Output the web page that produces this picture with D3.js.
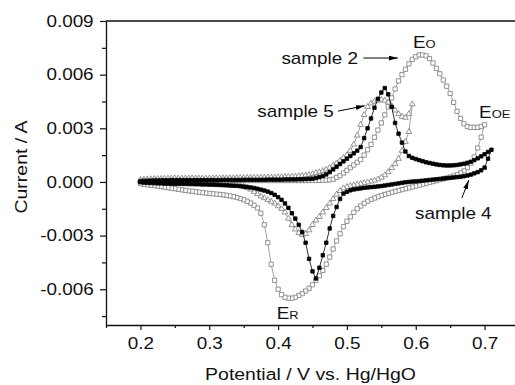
<!DOCTYPE html>
<html>
<head>
<meta charset="utf-8">
<script src="https://cdn.jsdelivr.net/npm/d3@7"></script>
<style>
  body { margin: 0; background: #fff; }
  svg { display: block; font-family: 'Liberation Sans', Arial, Helvetica, sans-serif; }
</style>
</head>
<body>
<div id="chart"></div>
<script>
// Cyclic voltammograms, currents in mA, one value per scan step.
// Anodic arrays run up from scanStart; cathodic arrays are listed
// from scanStart upwards too and get reversed when the loop is built.
const scanStart = 0.2;
const scanStep = 0.005;

const sample2Anodic = [
  0.00, 0.02, 0.03, 0.04, 0.05, 0.05, 0.06, 0.06, 0.06, 0.07,
  0.07, 0.07, 0.07, 0.07, 0.08, 0.08, 0.08, 0.08, 0.08, 0.08,
  0.08, 0.08, 0.08, 0.08, 0.08, 0.08, 0.08, 0.08, 0.08, 0.08,
  0.08, 0.08, 0.08, 0.08, 0.08, 0.08, 0.08, 0.08, 0.08, 0.08,
  0.08, 0.08, 0.08, 0.08, 0.08, 0.08, 0.08, 0.08, 0.08, 0.08,
  0.08, 0.09, 0.09, 0.10, 0.10, 0.12, 0.15, 0.25, 0.35, 0.50,
  0.65, 0.80, 0.95, 1.10, 1.25, 1.50, 1.80, 2.10, 2.50, 2.90,
  3.30, 3.75, 4.20, 4.70, 5.20, 5.65, 6.00, 6.30, 6.60, 6.85,
  7.00, 7.10, 7.10, 7.05, 6.90, 6.65, 6.35, 6.05, 5.70, 5.35,
  4.95, 4.45, 3.95, 3.55, 3.25, 3.10, 3.05, 3.05, 3.05, 3.10,
  3.20,
];
const sample2Cathodic = [
  -0.10, -0.13, -0.16, -0.18, -0.20, -0.23, -0.26, -0.29, -0.32, -0.35,
  -0.38, -0.41, -0.44, -0.47, -0.50, -0.52, -0.55, -0.57, -0.60, -0.62,
  -0.64, -0.66, -0.68, -0.70, -0.72, -0.75, -0.78, -0.82, -0.87, -0.93,
  -1.00, -1.08, -1.18, -1.30, -1.45, -1.75, -2.40, -3.40, -4.60, -5.50,
  -6.00, -6.30, -6.45, -6.50, -6.50, -6.45, -6.35, -6.25, -6.10, -5.95,
  -5.75, -5.50, -5.25, -4.95, -4.60, -4.20, -3.75, -3.30, -2.90, -2.50,
  -2.20, -1.95, -1.70, -1.50, -1.35, -1.20, -1.08, -0.98, -0.90, -0.83,
  -0.76, -0.70, -0.64, -0.58, -0.53, -0.48, -0.43, -0.38, -0.33, -0.28,
  -0.23, -0.18, -0.13, -0.08, -0.03, 0.02, 0.07, 0.12, 0.17, 0.22,
  0.27, 0.33, 0.40, 0.50, 0.62, 0.80, 1.05, 1.40, 1.90, 2.50,
];

const sample4Anodic = [
  0.03, 0.05, 0.06, 0.07, 0.08, 0.08, 0.09, 0.09, 0.09, 0.10,
  0.10, 0.10, 0.10, 0.10, 0.10, 0.10, 0.10, 0.10, 0.10, 0.10,
  0.10, 0.10, 0.10, 0.10, 0.11, 0.11, 0.11, 0.11, 0.11, 0.11,
  0.12, 0.12, 0.12, 0.12, 0.12, 0.12, 0.12, 0.13, 0.13, 0.13,
  0.13, 0.13, 0.14, 0.14, 0.14, 0.14, 0.15, 0.15, 0.16, 0.17,
  0.18, 0.22, 0.27, 0.33, 0.42, 0.55, 0.70, 0.85, 1.00, 1.15,
  1.30, 1.45, 1.60, 1.75, 1.95, 2.45, 3.00, 3.55, 4.15, 4.65,
  5.00, 5.25, 4.90, 4.20, 3.30, 2.70, 2.20, 1.70, 1.45, 1.35,
  1.28, 1.22, 1.16, 1.10, 1.06, 1.02, 0.98, 0.95, 0.93, 0.92,
  0.92, 0.93, 0.95, 0.98, 1.02, 1.07, 1.13, 1.22, 1.32, 1.43,
  1.55, 1.68, 1.80,
];
const sample4Cathodic = [
  -0.02, -0.04, -0.05, -0.06, -0.07, -0.08, -0.08, -0.09, -0.09, -0.10,
  -0.10, -0.10, -0.11, -0.11, -0.12, -0.12, -0.13, -0.13, -0.14, -0.14,
  -0.15, -0.15, -0.16, -0.17, -0.18, -0.19, -0.20, -0.21, -0.22, -0.24,
  -0.26, -0.28, -0.31, -0.34, -0.38, -0.43, -0.48, -0.54, -0.62, -0.72,
  -0.85, -1.00, -1.20, -1.45, -1.75, -2.05, -2.40, -2.80, -3.40, -4.30,
  -5.00, -5.40, -4.80, -4.10, -3.40, -2.60, -1.90, -1.40, -0.95, -0.65,
  -0.55, -0.47, -0.42, -0.39, -0.36, -0.33, -0.31, -0.29, -0.27, -0.25,
  -0.23, -0.20, -0.17, -0.14, -0.11, -0.08, -0.05, -0.02, 0.00, 0.02,
  0.03, 0.05, 0.07, 0.09, 0.11, 0.13, 0.15, 0.17, 0.19, 0.21,
  0.23, 0.25, 0.27, 0.29, 0.32, 0.36, 0.41, 0.48, 0.55, 0.65,
  0.80, 1.30,
];

const sample5Anodic = [
  0.12, 0.14, 0.15, 0.16, 0.17, 0.18, 0.18, 0.19, 0.19, 0.19,
  0.20, 0.20, 0.20, 0.20, 0.20, 0.20, 0.20, 0.20, 0.20, 0.20,
  0.20, 0.20, 0.21, 0.21, 0.21, 0.22, 0.22, 0.22, 0.23, 0.23,
  0.23, 0.24, 0.24, 0.24, 0.25, 0.25, 0.25, 0.26, 0.26, 0.26,
  0.27, 0.27, 0.28, 0.29, 0.30, 0.31, 0.33, 0.35, 0.37, 0.40,
  0.45, 0.50, 0.55, 0.62, 0.70, 0.80, 0.92, 1.05, 1.20, 1.35,
  1.50, 1.75, 2.10, 2.60, 3.20, 3.75, 4.20, 4.40, 4.50, 4.55,
  4.60, 4.55, 4.45, 4.25, 4.00, 3.80, 3.65, 3.60, 3.80, 4.35,
];
const sample5Cathodic = [
  0.06, 0.04, 0.03, 0.02, 0.01, 0.00, -0.01, -0.02, -0.02, -0.03,
  -0.03, -0.04, -0.04, -0.05, -0.05, -0.06, -0.07, -0.08, -0.09, -0.10,
  -0.11, -0.12, -0.13, -0.14, -0.15, -0.16, -0.17, -0.18, -0.19, -0.21,
  -0.26, -0.33, -0.42, -0.55, -0.67, -0.80, -0.90, -1.00, -1.10, -1.20,
  -1.35, -1.50, -1.70, -2.05, -2.40, -2.65, -2.85, -2.95, -2.90, -2.70,
  -2.40, -2.15, -1.95, -1.70, -1.45, -1.20, -0.95, -0.70, -0.50, -0.35,
  -0.27, -0.22, -0.18, -0.14, -0.10, -0.06, -0.02, 0.03, 0.08, 0.15,
  0.25, 0.38, 0.55, 0.78, 1.00, 1.30, 1.75, 2.25, 2.80,
];

const xTicks = [0.2, 0.3, 0.4, 0.5, 0.6, 0.7];
const xMinorTicks = [0.15, 0.25, 0.35, 0.45, 0.55, 0.65, 0.75];
const yTicks = [-0.006, -0.003, 0, 0.003, 0.006, 0.009];
const yMinorTicks = [-0.0075, -0.0045, -0.0015, 0.0015, 0.0045, 0.0075];

const labels = [
  { text: 'sample 2', v: 0.516, c: 0.0066, anchor: 'end' },
  { text: 'sample 5', v: 0.481, c: 0.00362, anchor: 'end' },
  { text: 'sample 4', v: 0.599, c: -0.0021, anchor: 'start' },
];
const peakLabels = [
  { main: 'E', sub: 'O', v: 0.596, c: 0.0075 },
  { main: 'E', sub: 'OE', v: 0.692, c: 0.00358 },
  { main: 'E', sub: 'R', v: 0.398, c: -0.00768 },
];
const arrows = [
  { from: [0.524, 0.00693], to: [0.574, 0.00693] },
  { from: [0.487, 0.00396], to: [0.526, 0.00426] },
  { from: [0.667, -0.0009], to: [0.677, 0.0001] },
];

const width = 515;
const height = 385;
const stretch = 1.18; // the original lettering is a little wider than Arial

const x = d3.scaleLinear().domain([0.15, 0.75]).range([106, 519]);
const y = d3.scaleLinear().domain([-0.008, 0.009]).range([325, 21]);

function loop(anodic, cathodic) {
  const up = anodic.map((c, i) => ({ v: scanStart + i * scanStep, c: c / 1000 }));
  const down = cathodic
    .map((c, i) => ({ v: scanStart + i * scanStep, c: c / 1000 }))
    .reverse();
  return up.concat(down);
}

const series = [
  {
    name: 'sample 2',
    points: loop(sample2Anodic, sample2Cathodic),
    symbol: d3.symbolSquare,
    size: 18,
    fill: '#fff',
    stroke: '#7a7a7a',
    line: '#8a8a8a',
  },
  {
    name: 'sample 5',
    points: loop(sample5Anodic, sample5Cathodic),
    symbol: d3.symbolTriangle,
    size: 14,
    fill: '#fff',
    stroke: '#7a7a7a',
    line: '#8a8a8a',
  },
  {
    name: 'sample 4',
    points: loop(sample4Anodic, sample4Cathodic),
    symbol: d3.symbolSquare,
    size: 12,
    fill: '#000',
    stroke: '#000',
    line: '#000',
  },
];

const svg = d3
  .select('#chart')
  .append('svg')
  .attr('width', width)
  .attr('height', height);

svg
  .append('defs')
  .append('marker')
  .attr('id', 'head')
  .attr('markerUnits', 'userSpaceOnUse')
  .attr('markerWidth', 10)
  .attr('markerHeight', 6)
  .attr('refX', 9)
  .attr('refY', 3)
  .attr('orient', 'auto')
  .append('path')
  .attr('d', 'M0,0.6L9,3L0,5.4Z')
  .attr('fill', '#000');

// curves
const line = d3
  .line()
  .x((d) => x(d.v))
  .y((d) => y(d.c));

const curves = svg.append('g').attr('class', 'curves');

series.forEach((s) => {
  const g = curves.append('g').attr('class', s.name.replace(' ', '-'));
  g.append('path')
    .datum(s.points)
    .attr('d', line)
    .attr('fill', 'none')
    .attr('stroke', s.line)
    .attr('stroke-width', 0.8);
  g.selectAll('path.pt')
    .data(s.points)
    .join('path')
    .attr('class', 'pt')
    .attr('transform', (d) => `translate(${x(d.v)},${y(d.c)})`)
    .attr('d', d3.symbol(s.symbol, s.size))
    .attr('fill', s.fill)
    .attr('stroke', s.stroke)
    .attr('stroke-width', 0.8);
});

// axes
const fmtX = (d) => d.toFixed(1);
const fmtY = (d) => d.toFixed(3);

const xAxis = svg
  .append('g')
  .attr('transform', `translate(0,${y(-0.008)})`)
  .call(
    d3.axisBottom(x).tickValues(xTicks).tickFormat(fmtX)
      .tickSize(5).tickSizeOuter(0).tickPadding(8)
  );
svg
  .append('g')
  .attr('transform', `translate(0,${y(-0.008)})`)
  .call(d3.axisBottom(x).tickValues(xMinorTicks).tickFormat('').tickSize(3))
  .call((g) => g.select('.domain').remove());

const yAxis = svg
  .append('g')
  .attr('transform', `translate(${x(0.15)},0)`)
  .call(
    d3.axisLeft(y).tickValues(yTicks).tickFormat(fmtY)
      .tickSize(6).tickSizeOuter(0).tickPadding(4.5)
  );
svg
  .append('g')
  .attr('transform', `translate(${x(0.15)},0)`)
  .call(d3.axisLeft(y).tickValues(yMinorTicks).tickFormat('').tickSize(4))
  .call((g) => g.select('.domain').remove());

svg.selectAll('.tick line').attr('stroke', '#111').attr('stroke-width', 1.2);
svg.selectAll('.domain').attr('stroke', '#111').attr('stroke-width', 1.3);

[xAxis, yAxis].forEach((a) =>
  a.selectAll('text')
    .attr('font-size', 16)
    .attr('font-family', "'Liberation Sans', Arial, sans-serif")
    .attr('fill', '#111')
    .attr('transform', `scale(${stretch},1)`)
);

// top frame and right frame
svg.append('path')
  .attr('d', `M${x(0.15)},${y(0.009)}H${x(0.75)}V${y(-0.008)}`)
  .attr('fill', 'none')
  .attr('stroke', '#111')
  .attr('stroke-width', 1.3);

function stretched(px, py, anchor) {
  return svg
    .append('text')
    .attr('transform', `translate(${px},${py}) scale(${stretch},1)`)
    .attr('text-anchor', anchor)
    .attr('font-size', 16)
    .attr('fill', '#111');
}

// axis titles
stretched((x(0.15) + x(0.75)) / 2 - 2, 380, 'middle')
  .attr('font-size', 16.5)
  .text('Potential / V vs. Hg/HgO');

svg
  .append('text')
  .attr('transform', `translate(27,${(y(0.009) + y(-0.008)) / 2 - 6}) rotate(-90) scale(${stretch},1)`)
  .attr('text-anchor', 'middle')
  .attr('font-size', 16.5)
  .attr('fill', '#111')
  .text('Current / A');

// annotations
labels.forEach((l) => {
  stretched(x(l.v), y(l.c), l.anchor).text(l.text);
});

peakLabels.forEach((l) => {
  const t = stretched(x(l.v), y(l.c), 'start');
  t.append('tspan').text(l.main);
  t.append('tspan').attr('font-size', 11).text(l.sub);
});

svg
  .append('g')
  .selectAll('line')
  .data(arrows)
  .join('line')
  .attr('x1', (d) => x(d.from[0]))
  .attr('y1', (d) => y(d.from[1]))
  .attr('x2', (d) => x(d.to[0]))
  .attr('y2', (d) => y(d.to[1]))
  .attr('stroke', '#000')
  .attr('stroke-width', 1)
  .attr('marker-end', 'url(#head)');
</script>
</body>
</html>
